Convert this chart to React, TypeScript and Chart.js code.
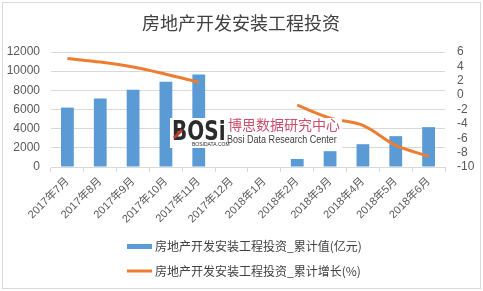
import React, { useEffect, useRef } from "react";
import { Chart, registerables } from "chart.js";

Chart.register(...registerables);

const chartTitle = "房地产开发安装工程投资";
const categories = [
  "2017年7月", "2017年8月", "2017年9月", "2017年10月", "2017年11月", "2017年12月",
  "2018年1月", "2018年2月", "2018年3月", "2018年4月", "2018年5月", "2018年6月",
];
const cumulativeValue: (number | null)[] = [6200, 7150, 8050, 8900, 9650, null, null, 840, 1650, 2380, 3220, 4160];
const cumulativeGrowth: (number | null)[] = [5.1, 4.6, 3.9, 2.9, 1.8, null, null, -1.4, -3.2, -4.2, -7.0, -8.5];
const seriesNames = ["房地产开发安装工程投资_累计值(亿元)", "房地产开发安装工程投资_累计增长(%)"];
const leftAxis = { min: 0, max: 12000, step: 2000 };
const rightAxis = { min: -10, max: 6, step: 2 };
const watermarkCn = "博思数据研究中心";
const watermarkEn = "Bosi Data Research Center";

const BLUE = "#5B9BD5";
const ORANGE = "#ED7D31";
const GRID = "#d9d9d9";
const TEXT = "#595959";
const FONT = "'Liberation Sans', 'Noto Sans CJK SC', sans-serif";
const CJK = "'Noto Sans CJK SC', 'Liberation Sans', sans-serif";

const decorPlugin = {
  id: "decor",
  beforeDraw(chart: any) {
    const ctx = chart.ctx;
    ctx.save();
    ctx.fillStyle = "#ffffff";
    ctx.fillRect(0, 0, chart.width, chart.height);
    ctx.strokeStyle = GRID;
    ctx.lineWidth = 1;
    ctx.strokeRect(2.5, 2.5, chart.width - 5, chart.height - 5);
    // title
    ctx.fillStyle = "#404040";
    ctx.font = `18px ${CJK}`;
    ctx.textAlign = "center";
    ctx.textBaseline = "middle";
    ctx.fillText(chartTitle, 241, 23);
    // legend
    ctx.textAlign = "left";
    ctx.font = `12px ${CJK}`;
    ctx.fillStyle = BLUE;
    ctx.fillRect(127, 244, 25, 5);
    ctx.fillStyle = "#404040";
    ctx.fillText(seriesNames[0], 155, 246);
    ctx.strokeStyle = ORANGE;
    ctx.lineWidth = 3;
    ctx.beginPath();
    ctx.moveTo(127, 271);
    ctx.lineTo(152, 271);
    ctx.stroke();
    ctx.fillStyle = "#404040";
    ctx.fillText(seriesNames[1], 155, 271);
    ctx.restore();
  },
  afterDatasetsDraw(chart: any) {
    const ctx = chart.ctx;
    ctx.save();
    ctx.fillStyle = "#ffffff";
    ctx.fillRect(170, 118, 172, 30);
    ctx.save();
    ctx.translate(172, 140);
    ctx.scale(1, 1.3);
    ctx.font = `bold 20px 'DejaVu Sans', sans-serif`;
    ctx.fillStyle = "#2b2b2b";
    ctx.textAlign = "left";
    ctx.textBaseline = "alphabetic";
    ctx.fillText("BOSi", 0, 0);
    ctx.restore();
    ctx.fillStyle = "#c0392b";
    ctx.beginPath();
    ctx.moveTo(173, 137);
    ctx.lineTo(181, 129);
    ctx.lineTo(183, 131);
    ctx.lineTo(175, 139);
    ctx.closePath();
    ctx.fill();
    ctx.font = `5px 'Liberation Sans', sans-serif`;
    ctx.fillStyle = "#2b2b2b";
    ctx.fillText("BOSIDATA.COM", 192, 146);
    ctx.font = `14px ${CJK}`;
    ctx.fillStyle = "#c8506a";
    ctx.textBaseline = "middle";
    ctx.fillText(watermarkCn, 228, 125);
    ctx.save();
    ctx.translate(227, 140);
    ctx.scale(0.82, 1);
    ctx.font = `11px 'Liberation Sans', sans-serif`;
    ctx.fillStyle = "#404040";
    ctx.fillText(watermarkEn, 0, 0);
    ctx.restore();
    ctx.restore();
  },
};

export default function App() {
  const ref = useRef<HTMLCanvasElement | null>(null);
  useEffect(() => {
    if (!ref.current) return;
    const chart = new Chart(ref.current, {
      type: "bar",
      data: {
        labels: categories,
        datasets: [
          {
            type: "line",
            label: seriesNames[1],
            data: cumulativeGrowth,
            yAxisID: "y1",
            borderColor: ORANGE,
            backgroundColor: ORANGE,
            borderWidth: 3,
            pointRadius: 0,
            tension: 0.35,
            spanGaps: false,
            order: 0,
          } as any,
          {
            type: "bar",
            label: seriesNames[0],
            data: cumulativeValue,
            yAxisID: "y",
            backgroundColor: BLUE,
            categoryPercentage: 1,
            barPercentage: 0.39,
            order: 1,
          },
        ],
      },
      options: {
        responsive: false,
        animation: false,
        layout: { padding: { top: 52, left: 0, right: 0, bottom: 0 } },
        plugins: { legend: { display: false }, title: { display: false }, tooltip: { enabled: false } },
        scales: {
          x: {
            offset: true,
            grid: { display: true, drawOnChartArea: false, drawTicks: true, tickLength: 5, color: GRID, offset: true },
            border: { display: true, color: GRID },
            ticks: { minRotation: 45, maxRotation: 45, padding: 3, color: TEXT, font: { size: 11, family: FONT }, autoSkip: false },
            afterFit(scale: any) { scale.height = 124; },
          },
          y: {
            position: "left",
            min: leftAxis.min,
            max: leftAxis.max,
            grid: { color: GRID, drawTicks: false },
            border: { display: false },
            ticks: {
              stepSize: leftAxis.step, padding: 11, color: TEXT, autoSkip: false,
              font: { size: 12, family: FONT },
              callback: (v: any) => String(v),
            },
            afterFit(scale: any) { scale.width = 51; },
          },
          y1: {
            position: "right",
            min: rightAxis.min,
            max: rightAxis.max,
            grid: { drawOnChartArea: false, drawTicks: false },
            border: { display: false },
            ticks: {
              stepSize: rightAxis.step, padding: 12, color: TEXT, autoSkip: false,
              font: { size: 12, family: FONT },
              callback: (v: any) => String(v),
            },
            afterFit(scale: any) { scale.width = 38; },
          },
        },
      },
      plugins: [decorPlugin],
    });
    return () => chart.destroy();
  }, []);
  return (
    <div style={{ position: "fixed", left: 0, top: 0, width: 483, height: 291 }}>
      <canvas ref={ref} width={483} height={291} style={{ width: 483, height: 291, display: "block" }} />
    </div>
  );
}
